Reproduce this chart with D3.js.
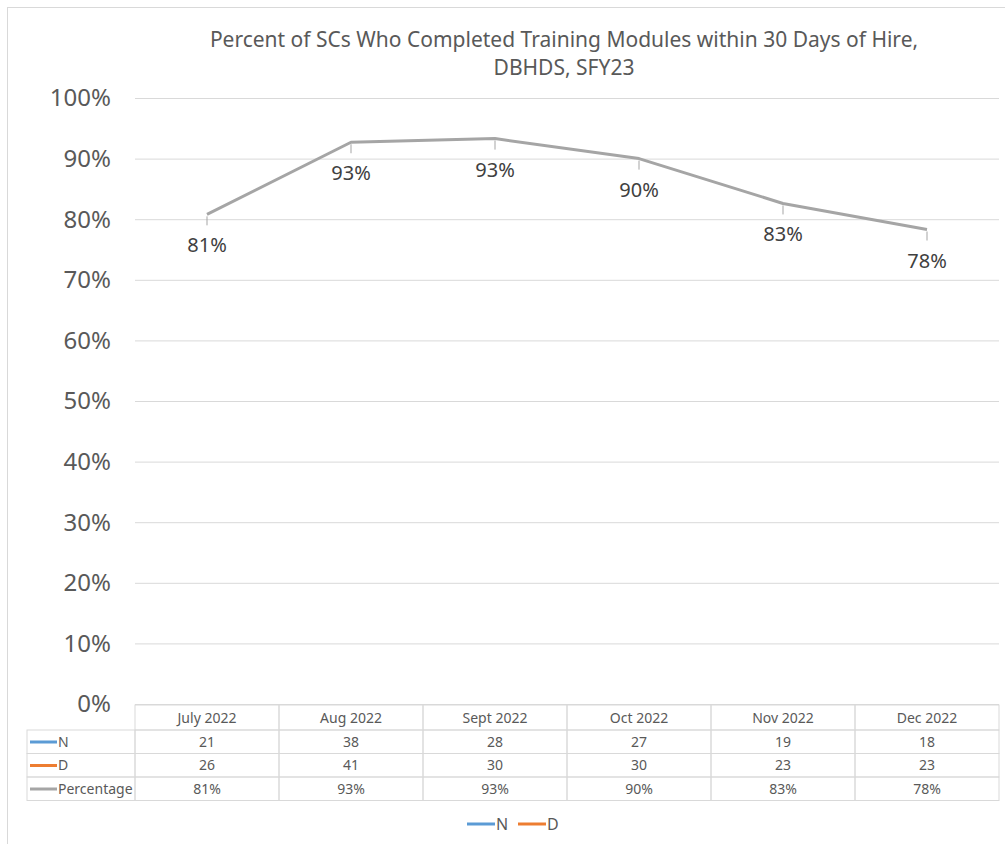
<!DOCTYPE html>
<html>
<head>
<meta charset="utf-8">
<script src="https://cdn.jsdelivr.net/npm/d3@7"></script>
<style>
  body { margin: 0; background: #fff; }
  text { font-family: "Noto Sans", "Open Sans", sans-serif; }
</style>
</head>
<body>
<svg class="chart"></svg>
<script>
// Chart size
const width = 1005;
const height = 844;

const months = ["July 2022", "Aug 2022", "Sept 2022", "Oct 2022", "Nov 2022", "Dec 2022"];
const nValues = [21, 38, 28, 27, 19, 18];
const dValues = [26, 41, 30, 30, 23, 23];
const percentValues = [0.808, 0.927, 0.933, 0.900, 0.826, 0.783];
const yTicks = [0, 0.1, 0.2, 0.3, 0.4, 0.5, 0.6, 0.7, 0.8, 0.9, 1.0];

const colors = { N: "#5B9BD5", D: "#ED7D31", Percentage: "#A5A5A5" };

const margin = { top: 98, right: 6, bottom: 140, left: 135 };
const plotW = width - margin.left - margin.right;
const plotH = height - margin.top - margin.bottom;

const svg = d3.select(".chart")
    .attr("width", width)
    .attr("height", height);

// outer chart border
svg.append("rect")
    .attr("x", 7.5).attr("y", 7.5)
    .attr("width", width + 10).attr("height", height + 10)
    .attr("fill", "none")
    .attr("stroke", "#D9D9D9");

// Title
svg.append("text")
    .attr("x", 564).attr("y", 47)
    .attr("text-anchor", "middle")
    .attr("fill", "#595959")
    .style("font-size", "21px")
    .selectAll("tspan")
    .data(["Percent of SCs Who Completed Training Modules within 30 Days of Hire,", "DBHDS, SFY23"])
    .enter().append("tspan")
    .attr("x", 564)
    .attr("dy", (d, i) => i === 0 ? 0 : 28)
    .text(d => d);

const g = svg.append("g")
    .attr("transform", `translate(${margin.left},${margin.top})`);

const x = d3.scaleBand().domain(months).range([0, plotW]);
const y = d3.scaleLinear().domain([0, 1]).range([plotH, 0]);

// Gridlines
g.append("g")
    .call(d3.axisLeft(y).tickValues(yTicks).tickSize(-plotW).tickFormat(""))
    .call(ax => ax.select(".domain").remove())
    .call(ax => ax.selectAll("line").attr("stroke", "#D9D9D9"));

// Y axis labels
g.selectAll(".ylab")
    .data(yTicks)
    .enter().append("text")
    .attr("class", "ylab")
    .attr("x", -24)
    .attr("y", d => y(d))
    .attr("dy", "0.35em")
    .attr("text-anchor", "end")
    .attr("fill", "#595959")
    .style("font-size", "24px")
    .text(d3.format(".0%"));

// Line
const cx = m => x(m) + x.bandwidth() / 2;
const line = d3.line()
    .x((d, i) => cx(months[i]))
    .y(d => y(d));

g.append("path")
    .datum(percentValues)
    .attr("d", line)
    .attr("fill", "none")
    .attr("stroke", colors.Percentage)
    .attr("stroke-width", 3)
    .attr("stroke-linejoin", "round");

// Data labels with leader lines
const labels = g.selectAll(".dlab")
    .data(percentValues)
    .enter().append("g")
    .attr("class", "dlab");

labels.append("line")
    .attr("x1", (d, i) => cx(months[i]))
    .attr("x2", (d, i) => cx(months[i]))
    .attr("y1", d => y(d) + 2)
    .attr("y2", d => y(d) + 11)
    .attr("stroke", "#A5A5A5");

labels.append("text")
    .attr("x", (d, i) => cx(months[i]))
    .attr("y", d => y(d) + 31)
    .attr("dy", "0.35em")
    .attr("text-anchor", "middle")
    .attr("fill", "#404040")
    .style("font-size", "20px")
    .text(d3.format(".0%"));

// Data table
const tableTop = plotH + 1;
const rowH = 24;
const labelX = 27 - margin.left;
const rows = [
    { name: "N", values: nValues, fmt: d => d },
    { name: "D", values: dValues, fmt: d => d },
    { name: "Percentage", values: percentValues, fmt: d3.format(".0%") }
];

const table = g.append("g").attr("class", "table");

// header row
table.selectAll(".hdr")
    .data(months)
    .enter().append("rect")
    .attr("x", d => x(d))
    .attr("y", tableTop)
    .attr("width", x.bandwidth())
    .attr("height", rowH + 1)
    .attr("fill", "none")
    .attr("stroke", "#D9D9D9");

table.selectAll(".hdrtxt")
    .data(months)
    .enter().append("text")
    .attr("x", d => cx(d))
    .attr("y", tableTop + rowH / 2 + 1)
    .attr("dy", "0.35em")
    .attr("text-anchor", "middle")
    .attr("fill", "#595959")
    .style("font-size", "14px")
    .text(d => d);

rows.forEach((r, ri) => {
    const ry = tableTop + rowH + 1 + ri * 23.5;
    const rg = table.append("g");
    rg.append("rect")
        .attr("x", labelX).attr("y", ry)
        .attr("width", -labelX).attr("height", 23.5)
        .attr("fill", "none").attr("stroke", "#D9D9D9");
    rg.selectAll("rect.cell")
        .data(months)
        .enter().append("rect")
        .attr("class", "cell")
        .attr("x", d => x(d)).attr("y", ry)
        .attr("width", x.bandwidth()).attr("height", 23.5)
        .attr("fill", "none").attr("stroke", "#D9D9D9");
    rg.append("line")
        .attr("x1", labelX + 3).attr("x2", labelX + 30)
        .attr("y1", ry + 12).attr("y2", ry + 12)
        .attr("stroke", colors[r.name]).attr("stroke-width", 3);
    rg.append("text")
        .attr("x", labelX + 31).attr("y", ry + 12)
        .attr("dy", "0.35em")
        .attr("fill", "#595959")
        .style("font-size", "14px")
        .text(r.name);
    rg.selectAll("text.val")
        .data(r.values)
        .enter().append("text")
        .attr("class", "val")
        .attr("x", (d, i) => cx(months[i]))
        .attr("y", ry + 12)
        .attr("dy", "0.35em")
        .attr("text-anchor", "middle")
        .attr("fill", "#595959")
        .style("font-size", "14px")
        .text(r.fmt);
});

// Legend
const legendItems = ["N", "D"];
const legend = svg.append("g").attr("transform", "translate(467,824)");
const item = legend.selectAll("g")
    .data(legendItems)
    .enter().append("g")
    .attr("transform", (d, i) => `translate(${i * 51},0)`);
item.append("line")
    .attr("x1", 0).attr("x2", 28)
    .attr("stroke", d => colors[d]).attr("stroke-width", 3);
item.append("text")
    .attr("x", 29).attr("dy", "0.35em")
    .attr("fill", "#595959")
    .style("font-size", "16px")
    .text(d => d);
</script>
</body>
</html>
